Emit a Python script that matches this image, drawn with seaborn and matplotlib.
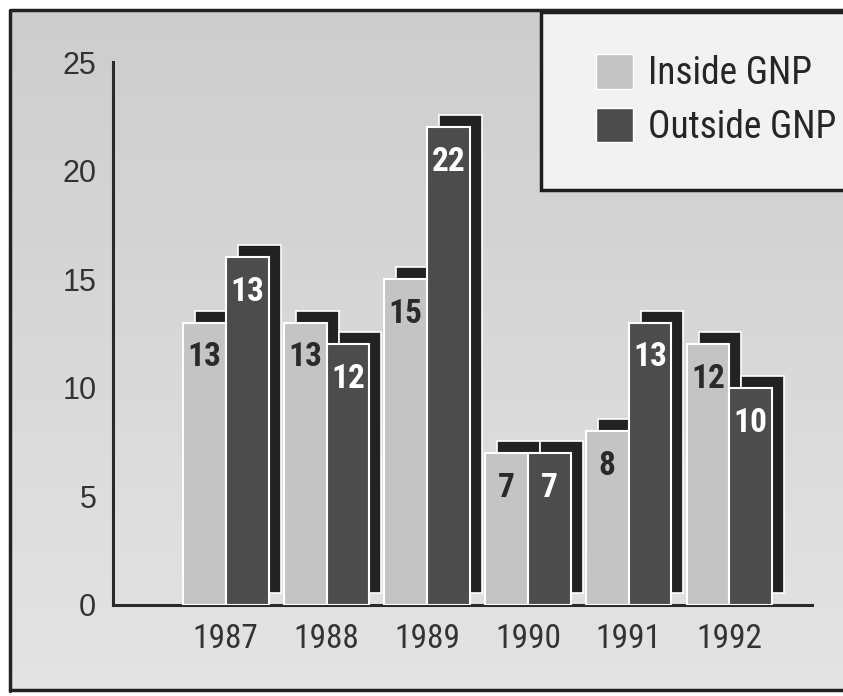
import matplotlib
matplotlib.use("Agg")
import numpy as np
import pandas as pd
import seaborn as sns
import matplotlib.pyplot as plt
from matplotlib import font_manager
from matplotlib.patches import Rectangle, Patch
from matplotlib.transforms import ScaledTranslation

# Dati
years = ["1987", "1988", "1989", "1990", "1991", "1992"]
inside_gnp = [13, 13, 15, 7, 8, 12]
outside_gnp = [16, 12, 22, 7, 13, 10]
# etichette stampate sulle barre (la barra 1987 esterna riporta 13)
inside_labels = ["13", "13", "15", "7", "8", "12"]
outside_labels = ["13", "12", "22", "7", "13", "10"]
series = ["Inside GNP", "Outside GNP"]
y_ticks = [0, 5, 10, 15, 20, 25]

light = "#c4c4c4"
dark = "#4c4c4c"
shadow = "#222222"

sns.set_style("white")
installed = {f.name for f in font_manager.fontManager.ttflist}
narrow = next((f for f in ["Roboto Condensed", "Liberation Sans Narrow"] if f in installed), "Liberation Sans")
plt.rcParams["font.family"] = ["Liberation Sans", "DejaVu Sans"]

df = pd.DataFrame({
    "year": years * 2,
    "series": [series[0]] * len(years) + [series[1]] * len(years),
    "value": inside_gnp + outside_gnp,
})

fig = plt.figure(figsize=(8.43, 6.96), dpi=100)

# Sfondo grigio della scansione
bg = fig.add_axes([0, 0, 1, 1], zorder=0)
grad = np.linspace(0.80, 0.89, 200).reshape(-1, 1) * np.ones((1, 10))
bg.imshow(grad, cmap="gray", vmin=0, vmax=1, aspect="auto", extent=[0, 1, 0, 1])
bg.set_xlim(0, 1)
bg.set_ylim(0, 1)
bg.axis("off")
# cornice esterna
bg.add_patch(Rectangle((0, 0), 10 / 843, 1, color="white", zorder=2))
bg.add_patch(Rectangle((0, 1 - 9 / 696), 1, 9 / 696, color="white", zorder=2))
bg.add_patch(Rectangle((0, 0), 1, 5 / 696, color="white", zorder=2))
bg.plot([10 / 843, 10 / 843, 1], [5 / 696, 1 - 10 / 696, 1 - 10 / 696], color="#222", lw=2.5, zorder=3)
bg.plot([10 / 843, 1], [6 / 696, 6 / 696], color="#222", lw=2.5, zorder=3)

# Riquadro legenda
bg.add_patch(Rectangle((541 / 843, 1 - 190 / 696), 0.4, 178 / 696,
                       facecolor="#f2f2f2", edgecolor="#1e1e1e", lw=2.5, zorder=4))

ax = fig.add_axes([113 / 843, 1 - 605 / 696, (812 - 113) / 843, (605 - 62) / 696], zorder=1)
ax.patch.set_alpha(0)

sns.barplot(data=df, x="year", y="value", hue="series", palette=[light, dark],
            width=0.85, gap=0, edgecolor="white", linewidth=1.5, saturation=1,
            legend=False, ax=ax, zorder=3)

off = ScaledTranslation(0.12, 0.12, fig.dpi_scale_trans)
for cont, labels, tcolor in zip(ax.containers, [inside_labels, outside_labels], ["#2a2a2a", "white"]):
    for bar, lab in zip(cont, labels):
        x, w, h = bar.get_x(), bar.get_width(), bar.get_height()
        ax.add_patch(Rectangle((x, 0), w, h, facecolor=shadow, edgecolor="white", lw=1.2,
                               transform=ax.transData + off, zorder=2, clip_on=False))
        ax.text(x + w / 2, h - 1.6, lab, ha="center", va="center", color=tcolor,
                fontsize=24, fontweight="bold", family=[narrow, "DejaVu Sans"], zorder=4)

ax.set_ylim(0, 25)
ax.set_xlim(-1.12, 5.82)
ax.set_yticks(y_ticks)
ax.set_xlabel("")
ax.set_ylabel("")
for side in ["top", "right"]:
    ax.spines[side].set_visible(False)
for side in ["left", "bottom"]:
    ax.spines[side].set_linewidth(2.2)
    ax.spines[side].set_color("#2a2a2a")
ax.tick_params(axis="y", direction="in", length=12, width=2, color="#2a2a2a",
               labelsize=22, pad=12, labelcolor="#333")
ax.tick_params(axis="x", length=0, pad=13, labelsize=24, labelcolor="#333")
for t in ax.get_xticklabels():
    t.set_family([narrow, "DejaVu Sans"])
# piccolo risvolto a fine asse x
ax.set_xticks([5.82], minor=True)
ax.tick_params(axis="x", which="minor", direction="in", length=11, width=2, color="#2a2a2a")

handles = [Patch(facecolor=light), Patch(facecolor=dark)]
fig.legend(handles, series, loc="upper left", bbox_to_anchor=(577 / 843, 1 - 35 / 696),
           frameon=False, borderpad=0, handlelength=1.0, handleheight=1.05,
           handletextpad=0.4, labelspacing=0.42,
           prop={"family": [narrow, "DejaVu Sans"], "size": 27})

fig.savefig("out.png", dpi=100)
